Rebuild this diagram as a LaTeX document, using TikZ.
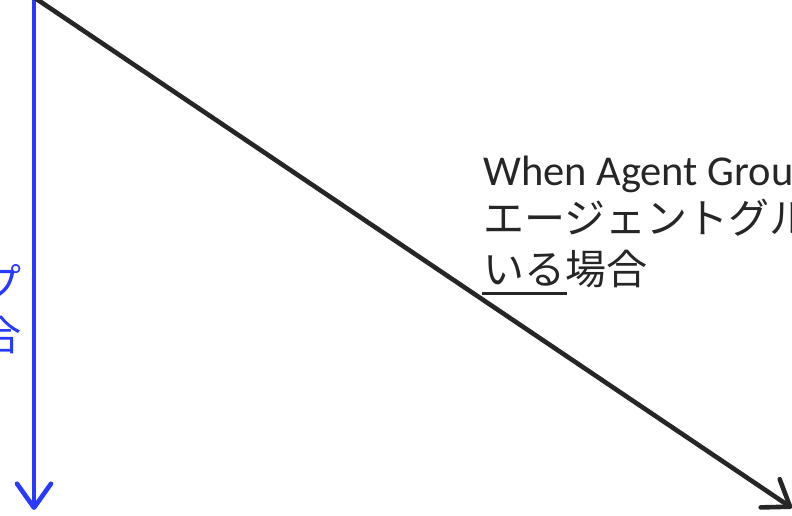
\documentclass[tikz,border=0pt]{standalone}
\usepackage{fontspec}
\setmainfont{Carlito}
\newfontfamily\jpfont{Noto Sans CJK JP}
\usetikzlibrary{arrows.meta}
\definecolor{ink}{RGB}{38,38,38}
\definecolor{blueline}{RGB}{40,58,255}
\tikzset{
  conn/.style={line width=4.6pt, line cap=round, -{Straight Barb[length=24pt,width=34pt,line cap=round,round]}},
  txt/.style={inner sep=0pt, font=\fontsize{42.5}{51}\selectfont, text=ink},
  jptxt/.style={inner sep=0pt, font=\fontsize{41}{51}\selectfont\jpfont, text=ink},
  bluetxt/.style={inner sep=0pt, font=\fontsize{41}{51}\selectfont\jpfont, text=blueline},
}
\begin{document}
\begin{tikzpicture}[x=1pt,y=-1pt]
\useasboundingbox (0,0) rectangle (792,516);
\clip (0,0) rectangle (792,516);
\coordinate (btop) at (34,-5);
\coordinate (bbot) at (34,510);
\coordinate (ktop) at (32,-4);
\coordinate (kbot) at (792,508);
\draw[conn, blueline] (btop) -- (bbot);
\draw[conn, ink] (ktop) -- (kbot);
\node[txt, anchor=base west] (l1) at (483,185) {When Agent Group};
\node[jptxt, anchor=base west] (l2) at (483,233) {エージェントグループ};
\node[jptxt, anchor=base west] (l3) at (483,284) {いる場合};
\coordinate (ula) at (482,293);
\coordinate (ulb) at (567,293);
\draw[line width=3pt, ink] (ula) -- (ulb);
\node[bluetxt, anchor=base east] (b1) at (22,298) {プ};
\node[bluetxt, anchor=base east] (b2) at (22,350) {合};
\end{tikzpicture}
\end{document}
